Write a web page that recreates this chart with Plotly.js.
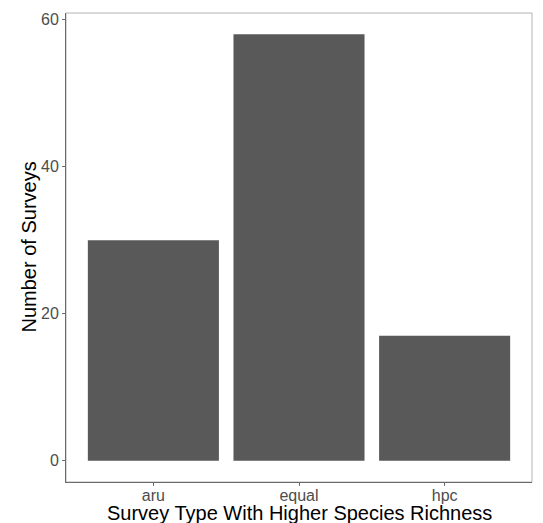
<!DOCTYPE html>
<html>
<head>
<meta charset="utf-8">
<script src="https://cdn.plot.ly/plotly-3.0.1.min.js"></script>
<style>html,body{margin:0;padding:0;background:#fff;}#chart{width:543px;height:523px;}</style>
</head>
<body>
<div id="chart"></div>
<script>
const categories = ["aru", "equal", "hpc"];
const surveyCounts = [30, 58, 17];
const yTickValues = [0, 20, 40, 60];
const xTitle = "Survey Type With Higher Species Richness";
const yTitle = "Number of Surveys";

const trace = {
  type: "bar",
  x: categories,
  y: surveyCounts,
  width: 0.9,
  marker: {color: "#595959", line: {width: 0}},
  hoverinfo: "x+y"
};

const plotH = 523 - 13 - 41;
const plotW = 543 - 66 - 11;

const layout = {
  width: 543,
  height: 523,
  margin: {l: 66, r: 11, t: 13, b: 41},
  paper_bgcolor: "#ffffff",
  plot_bgcolor: "#ffffff",
  showlegend: false,
  font: {family: "Liberation Sans, Arial, sans-serif"},
  xaxis: {
    type: "category",
    range: [-0.6, 2.6],
    showgrid: false,
    zeroline: false,
    showline: true,
    linecolor: "#6b6b6b",
    linewidth: 1,
    ticks: "outside",
    ticklen: 3,
    tickwidth: 1,
    tickcolor: "#6b6b6b",
    ticklabelstandoff: -4,
    tickfont: {size: 16, color: "#4d4d4d"}
  },
  yaxis: {
    range: [-2.9, 60.9],
    tickvals: yTickValues,
    showgrid: false,
    zeroline: false,
    showline: true,
    linecolor: "#6b6b6b",
    linewidth: 1,
    ticks: "outside",
    ticklen: 3,
    tickwidth: 1,
    tickcolor: "#6b6b6b",
    tickfont: {size: 16, color: "#4d4d4d"}
  },
  annotations: [
    {text: xTitle, xref: "paper", yref: "paper", x: 0.5, y: -(501 - 482) / plotH,
     xanchor: "center", yanchor: "top", showarrow: false, borderpad: 0,
     font: {size: 20, color: "#000000"}},
    {text: yTitle, xref: "paper", yref: "paper", x: -(66 - 16) / plotW, y: 0.5,
     xanchor: "left", yanchor: "middle", textangle: -90, showarrow: false, borderpad: 0,
     font: {size: 20, color: "#000000"}}
  ],
  shapes: [
    {type: "rect", xref: "paper", yref: "paper", x0: 0, x1: 1, y0: 0, y1: 1,
     line: {color: "#b3b3b3", width: 1}, fillcolor: "rgba(0,0,0,0)", layer: "below"}
  ]
};

Plotly.newPlot("chart", [trace], layout, {displayModeBar: false, staticPlot: true});
</script>
</body>
</html>
